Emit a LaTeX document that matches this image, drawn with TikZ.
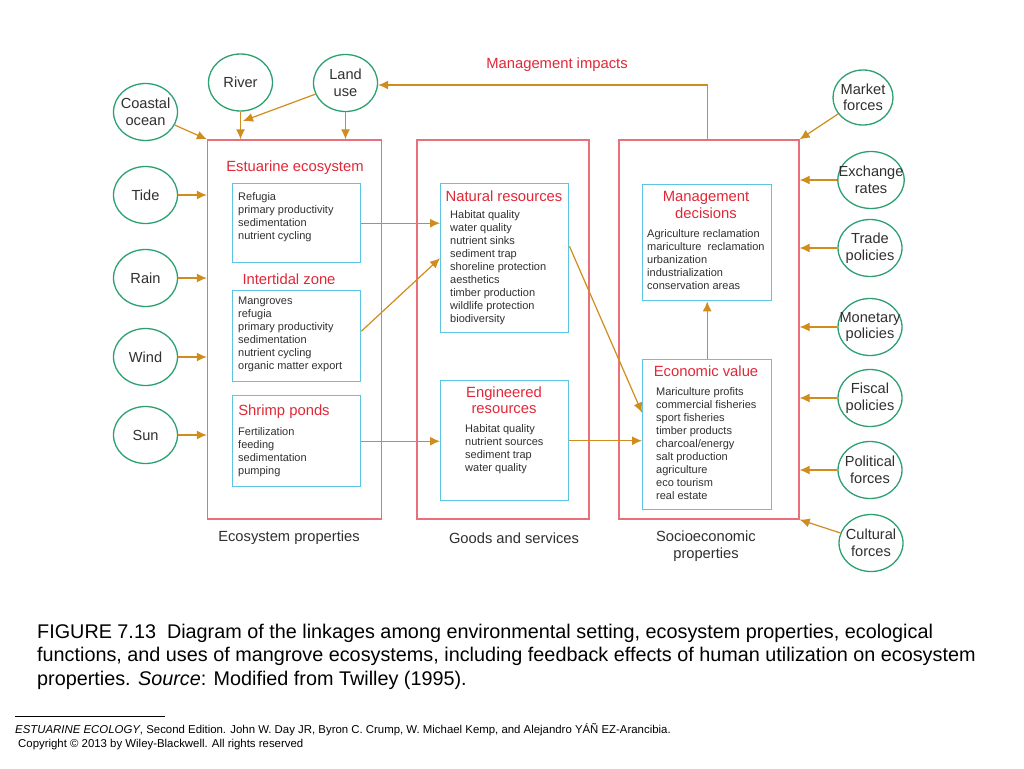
\documentclass[tikz,border=0pt]{standalone}
\usepackage{fontspec}
\setmainfont{Liberation Sans}
\usetikzlibrary{shapes.geometric,arrows.meta,positioning}

\definecolor{boxred}{HTML}{E8707A}
\definecolor{titlered}{HTML}{E02838}
\definecolor{boxcyan}{HTML}{5CC4E4}
\definecolor{ovalgreen}{HTML}{2CA070}
\definecolor{arrgold}{HTML}{D08C1C}
\definecolor{txtgray}{HTML}{303030}

\tikzset{
  oval/.style={ellipse, draw=ovalgreen, line width=1.3pt, minimum width=64pt,
    minimum height=57pt, inner xsep=-9pt, inner ysep=0pt, align=center,
    text=txtgray, font=\fontsize{14.6}{16.5}\selectfont},
  bigbox/.style={draw=boxred, line width=1.3pt, minimum height=379pt, inner sep=0pt},
  inbox/.style={draw=boxcyan, line width=1.4pt, anchor=north west,
    minimum width=128pt, inner sep=0pt},
  ttl/.style={text=titlered, align=center, inner sep=0pt,
    font=\fontsize{14.8}{16.5}\selectfont},
  lst/.style={text=txtgray, align=left, anchor=north west, inner sep=0pt,
    font=\fontsize{11}{13}\selectfont},
  lbl/.style={text=txtgray, align=center, inner sep=0pt,
    font=\fontsize{14.7}{17}\selectfont},
  link/.style={draw=arrgold, line width=1.2pt},
}

\begin{document}
\begin{tikzpicture}[x=1pt, y=-1pt, >={Latex[length=10pt,width=9pt]}]
        \useasboundingbox[fill=white] (0,0) rectangle (1024,768);
        % ==== BIG BOXES ====
        \node[bigbox, minimum width=174pt] (box1) at (294.5,329.5) {};
        \node[bigbox, minimum width=172pt] (box2) at (503,329.5) {};
        \node[bigbox, minimum width=180pt] (box3) at (709,329.5) {};
        \node[lbl] (ecoprop) at (289,538) {Ecosystem properties};
        \node[lbl] (goods) at (514,538) {Goods and services};
        \node[lbl] (socio) at (706,546) {Socioeconomic\\properties};

        % ==== ECOSYSTEM PROPERTIES ====
        \node[ttl] (estt) at (295,168) {Estuarine ecosystem};
        \node[inbox, minimum height=79pt] (refugia) at (232,183) {};
        \node[lst] (refl) at ([shift={(6,9)}]refugia.north west)
            {Refugia\\primary productivity\\sedimentation\\nutrient cycling};
        \node[ttl] (intt) at (289,279) {Intertidal zone};
        \node[inbox, minimum height=91pt] (mangroves) at (232,290) {};
        \node[lst] (manl) at ([shift={(6,7)}]mangroves.north west)
            {Mangroves\\refugia\\primary productivity\\sedimentation\\nutrient cycling\\organic matter export};
        \node[inbox, minimum height=91pt] (shrimp) at (232,395) {};
        \node[ttl] (shrt) at (284,412) {Shrimp ponds};
        \node[lst] (shrl) at ([shift={(6,32)}]shrimp.north west)
            {Fertilization\\feeding\\sedimentation\\pumping};

        % ==== GOODS AND SERVICES ====
        \node[inbox, minimum height=149pt] (natural) at (440,183) {};
        \node[ttl] (natt) at (504,196) {Natural resources};
        \node[lst] (natl) at ([shift={(10,27)}]natural.north west)
            {Habitat quality\\water quality\\nutrient sinks\\sediment trap\\shoreline protection\\aesthetics\\timber production\\wildlife protection\\biodiversity};
        \node[inbox, minimum height=120pt] (engineered) at (440,380) {};
        \node[ttl] (engt) at (504,400) {Engineered\\resources};
        \node[lst] (engl) at ([shift={(25,44)}]engineered.north west)
            {Habitat quality\\nutrient sources\\sediment trap\\water quality};

        % ==== SOCIOECONOMIC PROPERTIES ====
        \node[inbox, minimum width=129pt, minimum height=116pt] (mdec) at (642,184) {};
        \node[ttl] (mdect) at (706,205) {Management\\decisions};
        \node[lst] (mdecl) at ([shift={(5,45)}]mdec.north west)
            {Agriculture reclamation\\mariculture\ \ reclamation\\urbanization\\industrialization\\conservation areas};
        \node[inbox, minimum width=129pt, minimum height=150pt] (econ) at (642,359) {};
        \node[ttl] (econt) at (706,371) {Economic value};
        \node[lst] (econl) at ([shift={(14,28)}]econ.north west)
            {Mariculture profits\\commercial fisheries\\sport fisheries\\timber products\\charcoal/energy\\salt production\\agriculture\\eco tourism\\real estate};

        % ==== ENVIRONMENTAL SETTING ====
        \node[oval] (coastal) at (145.5,112) {Coastal\\ocean};
        \node[oval] (river) at (240.5,82.5) {River};
        \node[oval] (landuse) at (345.5,83) {Land\\use};
        \node[oval] (tide) at (145.5,195) {Tide};
        \node[oval] (rain) at (145.5,278) {Rain};
        \node[oval] (wind) at (145.5,357) {Wind};
        \node[oval] (sun) at (145.5,435) {Sun};

        \node[oval, minimum width=60pt, minimum height=55pt] (market) at (863,97.5) {Market\\forces};
        \node[oval] (exchange) at (871,180) {Exchange\\rates};
        \node[oval] (trade) at (870,248) {Trade\\policies};
        \node[oval] (monetary) at (870,327) {Monetary\\policies};
        \node[oval] (fiscal) at (870,398) {Fiscal\\policies};
        \node[oval] (political) at (870,470) {Political\\forces};
        \node[oval] (cultural) at (871,543) {Cultural\\forces};

        % ==== ARROWS ====
        \coordinate (rivjoin) at (243,121);
        \draw[link, ->] (coastal) -- (box1.north west);
        \draw[link, ->] (river) -- (river |- box1.north);
        \draw[link, ->] (landuse) -- (rivjoin);
        \draw[link, ->] (landuse) -- (landuse |- box1.north);
        \foreach \src in {tide, rain, wind, sun}
            \draw[link, ->] (\src) -- (\src -| box1.west);

        \draw[link, ->] (mdec.north |- box3.north) |- ([yshift=-2pt]landuse.east);
        \node[ttl] (impacts) at (557,65) {Management impacts};

        \draw[link, ->] (refugia.east) -- (refugia.east -| natural.west);
        \draw[link, ->] ([yshift=5pt]mangroves.east) -- (natural.west);
        \draw[link, ->] (shrimp.east) -- (shrimp.east -| engineered.west);
        \draw[link, ->] ([yshift=12pt]natural.east) -- ([yshift=22pt]econ.west);
        \draw[link, ->] (engineered.east) -- (engineered.east -| econ.west);
        \draw[link, ->] (econ.north) -- (mdec.south);

        \draw[link, ->] (market) -- (box3.north east);
        \foreach \src in {exchange, trade, monetary, fiscal, political}
            \draw[link, ->] (\src) -- (\src -| box3.east);
        \draw[link, ->] (cultural) -- (box3.south east);

        % ==== CAPTION ====
        \node[anchor=north west, align=left, inner sep=0pt, text=black,
              font=\fontsize{19.8}{23.3}\selectfont] (caption) at (37,624)
            {FIGURE 7.13\ \ Diagram of the linkages among environmental setting, ecosystem properties, ecological\\
             functions, and uses of mangrove ecosystems, including feedback effects of human utilization on ecosystem\\
             properties. \textit{Source}: Modified from Twilley (1995).};
        \coordinate (rulel) at (15,716);
        \coordinate (ruler) at (165,716);
        \draw[line width=1pt] (rulel) -- (ruler);
        \node[anchor=north west, align=left, inner sep=0pt, text=black,
              font=\fontsize{11.4}{14}\selectfont] (footer) at (15,723.5)
            {\textit{ESTUARINE ECOLOGY}, Second Edition. John W. Day JR, Byron C. Crump, W. Michael Kemp, and Alejandro YÁÑ EZ-Arancibia.\\
             \hspace{3pt}Copyright © 2013 by Wiley-Blackwell. All rights reserved};
     \end{tikzpicture}
\end{document}
